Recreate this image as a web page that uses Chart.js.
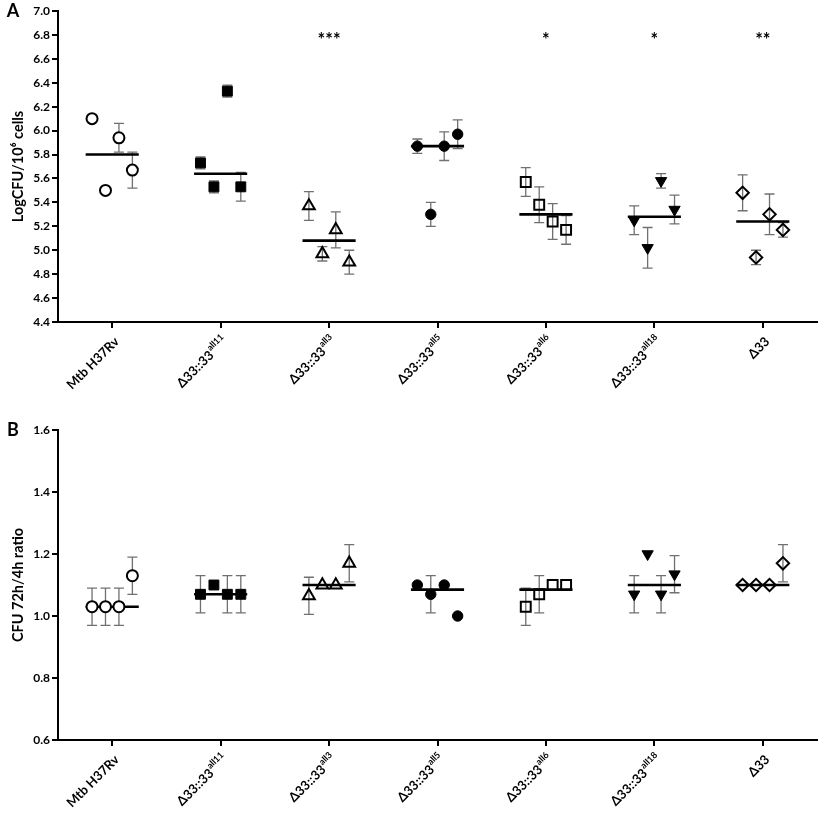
<!DOCTYPE html>
<html>
<head>
<meta charset="utf-8">
<script src="https://cdn.jsdelivr.net/npm/chart.js@4.4.1/dist/chart.umd.min.js"></script>
<style>
    html, body { margin: 0; padding: 0; background: #fff; }
    #wrap { position: relative; width: 828px; height: 814px; }
    canvas { position: absolute; left: 0; }
    #chartA { top: 0; }
    #chartB { top: 407px; }
</style>
</head>
<body>
<div id="wrap">
    <canvas id="chartA" width="828" height="407"></canvas>
    <canvas id="chartB" width="828" height="407"></canvas>
</div>
<script>
// strains on the x axis (base label + superscript part)
const strains = ['Mtb H37Rv', 'Δ33::33', 'Δ33::33', 'Δ33::33', 'Δ33::33', 'Δ33::33', 'Δ33'];
const strainSup = ['', 'all11', 'all3', 'all5', 'all6', 'all18', ''];

// horizontal spread of the 4 replicates inside a group (x units)
const dodge = [-0.186, -0.062, 0.062, 0.186];

// panel A: LogCFU/10^6 cells
const cfuValues = [
    [6.10, 5.50, 5.94, 5.67],
    [5.73, 5.53, 6.33, 5.53],
    [5.37, 4.97, 5.17, 4.90],
    [5.87, 5.30, 5.87, 5.97],
    [5.57, 5.38, 5.24, 5.17],
    [5.25, 5.02, 5.58, 5.34],
    [5.48, 4.94, 5.30, 5.17],
];
const cfuErrors = [
    [0, 0, 0.12, 0.15],
    [0.05, 0.05, 0.05, 0.12],
    [0.12, 0.06, 0.15, 0.10],
    [0.06, 0.10, 0.12, 0.12],
    [0.12, 0.15, 0.15, 0.12],
    [0.12, 0.17, 0.06, 0.12],
    [0.15, 0.06, 0.17, 0.06],
];
const cfuMeans = [5.80, 5.64, 5.08, 5.87, 5.30, 5.28, 5.24];
const cfuStars = ['', '', '***', '', '*', '*', '**'];
const cfuStarLevel = 6.79;
const cfuRange = [4.4, 7.0, 0.2];

// panel B: CFU 72h/4h ratio
const ratioValues = [
    [1.03, 1.03, 1.03, 1.13],
    [1.07, 1.10, 1.07, 1.07],
    [1.065, 1.10, 1.10, 1.17],
    [1.10, 1.07, 1.10, 1.00],
    [1.03, 1.07, 1.10, 1.10],
    [1.07, 1.20, 1.07, 1.135],
    [1.10, 1.10, 1.10, 1.17],
];
const ratioErrors = [
    [0.06, 0.06, 0.06, 0.06],
    [0.06, 0, 0.06, 0.06],
    [0.06, 0, 0, 0.06],
    [0, 0.06, 0, 0],
    [0.06, 0.06, 0, 0],
    [0.06, 0, 0.06, 0.06],
    [0, 0, 0, 0.06],
];
const ratioMeans = [1.03, 1.07, 1.10, 1.085, 1.085, 1.10, 1.10];
const ratioRange = [0.6, 1.6, 0.2];

// marker look per strain
const markers = [
    { style: 'circle', radius: 5.5, fill: '#fff', border: 2, rotation: 0 },
    { style: 'rect', radius: 7, fill: '#000', border: 1, rotation: 0 },
    { style: 'triangle', radius: 6.8, fill: 'rgba(0,0,0,0)', border: 2, rotation: 0 },
    { style: 'circle', radius: 5.2, fill: '#000', border: 1, rotation: 0 },
    { style: 'rect', radius: 7, fill: 'rgba(0,0,0,0)', border: 2, rotation: 0 },
    { style: 'triangle', radius: 6.5, fill: '#000', border: 1, rotation: 180 },
    { style: 'rectRot', radius: 6.2, fill: 'rgba(0,0,0,0)', border: 2, rotation: 0 },
];

const FONT = 'Lato, "Open Sans", sans-serif';
const MEAN_HALF = 0.245;
const LABEL_ANGLE = -45 * Math.PI / 180;

function panelPlugin(errors, stars, starLevel, letter, letterY) {
    return {
        id: 'panelExtras',
        beforeDatasetsDraw(chart) {
            // SD error bars, drawn under the markers
            const { ctx, scales: { x, y } } = chart;
            ctx.save();
            ctx.strokeStyle = '#707070';
            ctx.lineWidth = 1.3;
            chart.data.datasets.forEach((ds) => {
                if (ds.group === undefined) return;
                ds.data.forEach((p, i) => {
                    const e = errors[ds.group][i];
                    if (!e) return;
                    const px = x.getPixelForValue(p.x);
                    const yt = y.getPixelForValue(p.y + e);
                    const yb = y.getPixelForValue(p.y - e);
                    ctx.beginPath();
                    ctx.moveTo(px, yt); ctx.lineTo(px, yb);
                    ctx.moveTo(px - 5, yt); ctx.lineTo(px + 5, yt);
                    ctx.moveTo(px - 5, yb); ctx.lineTo(px + 5, yb);
                    ctx.stroke();
                });
            });
            ctx.restore();
        },
        afterDraw(chart) {
            const { ctx, scales: { x, y } } = chart;
            ctx.save();
            ctx.fillStyle = '#000';

            // rotated strain labels with superscript allele
            const base = x.top;
            strains.forEach((s, i) => {
                const px = x.getPixelForValue(i);
                ctx.save();
                ctx.translate(px + 5, base + 17);
                ctx.rotate(LABEL_ANGLE);
                ctx.textAlign = 'right';
                ctx.textBaseline = 'middle';
                let supW = 0;
                if (strainSup[i]) {
                    ctx.font = 'bold 9px ' + FONT;
                    supW = ctx.measureText(strainSup[i]).width;
                    ctx.fillText(strainSup[i], 0, -5);
                }
                ctx.font = 'bold 13px ' + FONT;
                ctx.fillText(s, -supW - 0.5, 0);
                ctx.restore();
            });

            // significance stars
            ctx.font = 'bold 18px ' + FONT;
            ctx.textAlign = 'center';
            ctx.textBaseline = 'middle';
            stars.forEach((s, i) => {
                if (!s) return;
                ctx.fillText(s, x.getPixelForValue(i), y.getPixelForValue(starLevel) + 4);
            });

            // panel letter
            ctx.font = 'bold 18px ' + FONT;
            ctx.textAlign = 'center';
            ctx.fillText(letter, 13, letterY);
            ctx.restore();
        },
    };
}

function buildPanel(canvasId, values, errors, means, stars, starLevel, range, yTitle, letter, areaTop, axisHeight) {
    const [yMin, yMax, yStep] = range;

    // group means as short horizontal segments
    const meanData = [];
    means.forEach((m, g) => {
        meanData.push({ x: g - MEAN_HALF, y: m }, { x: g + MEAN_HALF, y: m }, { x: g + 0.5, y: null });
    });

    const datasets = [{
        type: 'line',
        data: meanData,
        borderColor: '#000',
        borderWidth: 2.6,
        pointRadius: 0,
        spanGaps: false,
        order: 10,
    }];

    values.forEach((vals, g) => {
        const mk = markers[g];
        datasets.push({
            type: 'scatter',
            group: g,
            data: vals.map((v, i) => ({ x: g + dodge[i], y: v })),
            pointStyle: mk.style,
            pointRadius: mk.radius,
            pointRotation: mk.rotation,
            backgroundColor: mk.fill,
            borderColor: '#000',
            borderWidth: mk.border,
            order: 1,
        });
    });

    const axisLine = { color: '#000', width: 2 };
    const tickGrid = { drawOnChartArea: false, drawTicks: true, tickLength: 6, color: '#000', lineWidth: 2 };

    return new Chart(document.getElementById(canvasId), {
        data: { datasets },
        options: {
            responsive: false,
            animation: false,
            layout: { padding: { top: areaTop, right: 11, left: 0, bottom: 0 } },
            plugins: { legend: { display: false }, tooltip: { enabled: false } },
            scales: {
                x: {
                    type: 'linear',
                    min: -0.5,
                    max: 6.5,
                    afterBuildTicks: (s) => { s.ticks = strains.map((_, i) => ({ value: i })); },
                    afterFit: (s) => { s.height = axisHeight; },
                    ticks: { display: false },
                    grid: tickGrid,
                    border: axisLine,
                },
                y: {
                    type: 'linear',
                    min: yMin,
                    max: yMax,
                    afterBuildTicks: (s) => {
                        const t = [];
                        for (let v = yMin; v <= yMax + 1e-9; v += yStep) t.push({ value: Math.round(v * 10) / 10 });
                        s.ticks = t;
                    },
                    afterFit: (s) => { s.width = 58; },
                    ticks: {
                        color: '#000',
                        padding: 2,
                        font: { family: FONT, size: 12, weight: 'bold' },
                        callback: (v) => Number(v).toFixed(1),
                    },
                    grid: tickGrid,
                    border: axisLine,
                    title: {
                        display: true,
                        text: yTitle,
                        color: '#000',
                        font: { family: FONT, size: 14.5, weight: 'bold' },
                        padding: { top: 10, bottom: 0 },
                    },
                },
            },
        },
        plugins: [panelPlugin(errors, stars, starLevel, letter, areaTop)],
    });
}

buildPanel('chartA', cfuValues, cfuErrors, cfuMeans, cfuStars, cfuStarLevel, cfuRange,
    'LogCFU/10⁶ cells', 'A', 11, 85);
buildPanel('chartB', ratioValues, ratioErrors, ratioMeans, [], 0, ratioRange,
    'CFU 72h/4h ratio', 'B', 23, 74);
</script>
</body>
</html>
